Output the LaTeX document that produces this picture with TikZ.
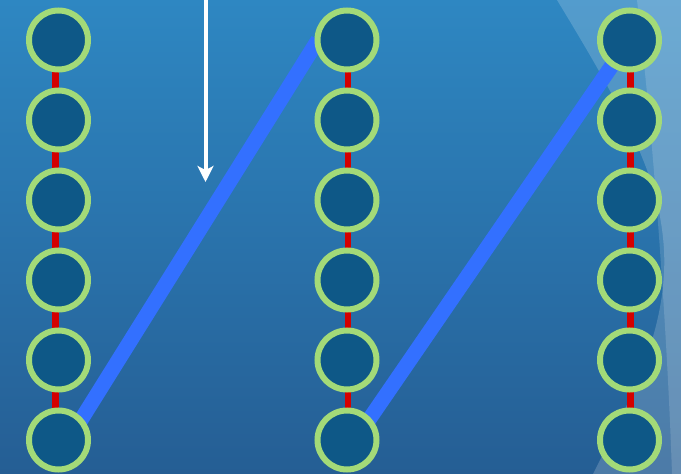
\documentclass[tikz,border=0pt]{standalone}
\usetikzlibrary{arrows.meta}
\pgfdeclarelayer{bg}
\pgfdeclarelayer{lines}
\pgfsetlayers{bg,lines,main}
\definecolor{bgtop}{RGB}{46,135,194}
\definecolor{bgbot}{RGB}{37,94,148}
\definecolor{nodefill}{RGB}{14,88,135}
\definecolor{nodering}{RGB}{163,218,120}
\definecolor{linkred}{RGB}{212,0,0}
\definecolor{pathblue}{RGB}{51,112,255}
\tikzset{
  ring/.style={circle, draw=nodering, fill=nodefill, line width=6pt, minimum size=59pt, inner sep=0pt},
  redlink/.style={draw=linkred, line width=6.5pt},
  jump/.style={draw=pathblue, line width=15pt},
  whitearrow/.style={draw=white, line width=4pt, -{Stealth[length=16pt,width=16pt,inset=4pt]}},
  glow/.style={fill=white, draw=none}
}
\begin{document}
\begin{tikzpicture}[x=1pt,y=-1pt]
\useasboundingbox (0,0) rectangle (681,474);
% nodes
\foreach \col/\xx in {a/58.5,b/347,c/629.5}
  \foreach \rr in {1,...,6}
    \node[ring] (\col\rr) at (\xx,{40+80*(\rr-1)}) {};
% background
\begin{pgfonlayer}{bg}
  \shade[top color=bgtop, bottom color=bgbot] (0,0) rectangle (681,474);
  \fill[glow, fill opacity=0.18] (557,0) -- (681,0) -- (681,474) -- (593,474)
     .. controls (630,400) and (668,330) .. (664,250)
     .. controls (660,180) and (630,120) .. (557,0) -- cycle;
  \fill[glow, fill opacity=0.15] (637,0) -- (681,0) -- (681,474) -- (672,474)
     .. controls (668,350) and (655,150) .. (637,0) -- cycle;
\end{pgfonlayer}
% connectors
\begin{pgfonlayer}{lines}
  \foreach \col/\dx in {a/-3,b/1,c/1}
    \foreach \ra/\rb in {1/2,2/3,3/4,4/5,5/6}
      \draw[redlink] ([xshift=\dx pt]\col\ra.center) -- ([xshift=\dx pt]\col\rb.center);
  \draw[jump] ([xshift=10pt]a6.center) -- ([xshift=-29pt]b1.center);
  \draw[jump] ([xshift=8pt]b6.center) -- (c1.center);
\end{pgfonlayer}
% arrow
\coordinate (arrowtop) at (205.5,-2);
\coordinate (arrowtip) at (205.5,182);
\draw[whitearrow] (arrowtop) -- (arrowtip);
\end{tikzpicture}
\end{document}
